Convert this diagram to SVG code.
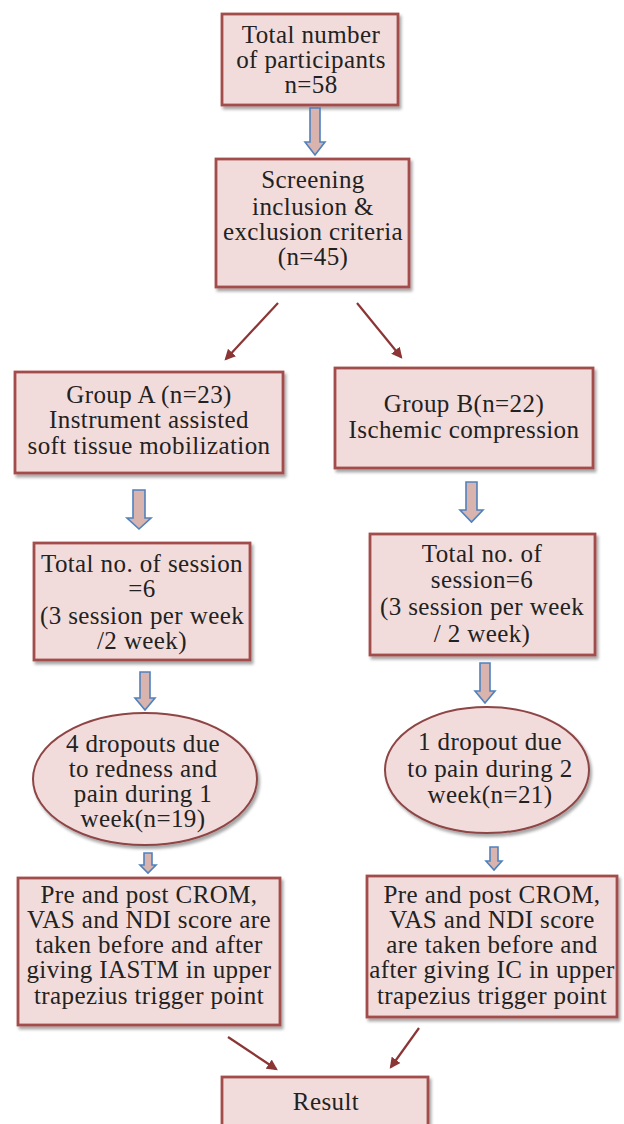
<svg xmlns="http://www.w3.org/2000/svg" width="624" height="1124" viewBox="0 0 624 1124">
<style>
.box{fill:#f2dcdb;stroke:#a24d4b;stroke-width:2.8;filter:url(#sh)}
.ell{fill:#f2dcdb;stroke:#8e4545;stroke-width:2;filter:url(#sh)}
.t{font-family:"Liberation Serif","Times New Roman",serif;font-size:25px;letter-spacing:0.4px;fill:#222;text-anchor:middle}
.blk{fill:#d9b3ad;stroke:#4f81bd;stroke-width:1.6}
.con{stroke:#8b3535;stroke-width:2.2;fill:none;marker-end:url(#ah)}
</style>
<defs>
<filter id="sh" x="-10%" y="-10%" width="125%" height="130%">
<feDropShadow dx="2" dy="3" stdDeviation="1.8" flood-color="#000" flood-opacity="0.35"/>
</filter>
<marker id="ah" viewBox="0 0 10 10" refX="8" refY="5" markerWidth="5" markerHeight="5" orient="auto" markerUnits="strokeWidth">
<path d="M0,0 L10,5 L0,10 z" fill="#8b3535"/>
</marker>
</defs>

<g id="n1">
<rect class="box" x="222" y="14" width="176" height="91"/>
<text class="t" x="311" y="43">Total number</text>
<text class="t" x="311" y="68">of participants</text>
<text class="t" x="311" y="93">n=58</text>
</g>

<g id="n2">
<rect class="box" x="216" y="159" width="193" height="128"/>
<text class="t" x="313" y="188">Screening</text>
<text class="t" x="313" y="215">inclusion &amp;</text>
<text class="t" x="313" y="240">exclusion criteria</text>
<text class="t" x="313" y="265">(n=45)</text>
</g>

<g id="nA">
<rect class="box" x="15" y="372" width="268" height="101"/>
<text class="t" x="149" y="403">Group A (n=23)</text>
<text class="t" x="149" y="428">Instrument assisted</text>
<text class="t" x="149" y="454">soft tissue mobilization</text>
</g>

<g id="nB">
<rect class="box" x="335" y="368" width="258" height="100"/>
<text class="t" x="464" y="412">Group B(n=22)</text>
<text class="t" x="464" y="438">Ischemic compression</text>
</g>

<g id="sA">
<rect class="box" x="34" y="543" width="216" height="117"/>
<text class="t" x="142" y="572">Total no. of session</text>
<text class="t" x="142" y="597">=6</text>
<text class="t" x="142" y="624">(3 session per week</text>
<text class="t" x="142" y="649">/2 week)</text>
</g>

<g id="sB">
<rect class="box" x="370" y="534" width="225" height="121"/>
<text class="t" x="482" y="562">Total no. of</text>
<text class="t" x="482" y="588">session=6</text>
<text class="t" x="482" y="615">(3 session per week</text>
<text class="t" x="482" y="642">/ 2 week)</text>
</g>

<g id="dA">
<ellipse class="ell" cx="145" cy="779" rx="112" ry="66"/>
<text class="t" x="143" y="752">4 dropouts due</text>
<text class="t" x="143" y="777">to redness and</text>
<text class="t" x="143" y="802">pain during 1</text>
<text class="t" x="143" y="827">week(n=19)</text>
</g>

<g id="dB">
<ellipse class="ell" cx="487" cy="770" rx="102" ry="63"/>
<text class="t" x="490" y="750">1 dropout due</text>
<text class="t" x="490" y="777">to pain during 2</text>
<text class="t" x="490" y="803">week(n=21)</text>
</g>

<g id="pA">
<rect class="box" x="18" y="878" width="262" height="147"/>
<text class="t" x="149" y="903">Pre and post CROM,</text>
<text class="t" x="149" y="928">VAS and NDI score are</text>
<text class="t" x="149" y="953">taken before and after</text>
<text class="t" x="149" y="978">giving IASTM in upper</text>
<text class="t" x="149" y="1004">trapezius trigger point</text>
</g>

<g id="pB">
<rect class="box" x="367" y="876" width="250" height="141"/>
<text class="t" x="492" y="903">Pre and post CROM,</text>
<text class="t" x="492" y="928">VAS and NDI score</text>
<text class="t" x="492" y="953">are taken before and</text>
<text class="t" x="492" y="978">after giving IC in upper</text>
<text class="t" x="492" y="1004">trapezius trigger point</text>
</g>

<g id="res">
<rect class="box" x="222" y="1077" width="206" height="60"/>
<text class="t" x="326" y="1110">Result</text>
</g>

<g id="connectors">
<path class="blk" d="M310,108 h10 v34 h5 l-10,13 l-10,-13 h5 z"/>
<path class="blk" d="M133,490 h12 v28 h6 l-12,11 l-12,-11 h6 z"/>
<path class="blk" d="M466,482 h11 v28 h6 l-11.5,12 l-11.5,-12 h6 z"/>
<path class="blk" d="M140,672 h10 v26 h5 l-10,12 l-10,-12 h5 z"/>
<path class="blk" d="M480,663 h10 v28 h5 l-10,12 l-10,-12 h5 z"/>
<path class="blk" d="M144,853 h8 v12 h4 l-8,8 l-8,-8 h4 z"/>
<path class="blk" d="M490,847 h8 v14 h4 l-8,9 l-8,-9 h4 z"/>
<line class="con" x1="278" y1="303" x2="226" y2="359"/>
<line class="con" x1="357" y1="303" x2="401" y2="357"/>
<line class="con" x1="228" y1="1037" x2="276" y2="1069"/>
<line class="con" x1="419" y1="1028" x2="391" y2="1067"/>
</g>
</svg>
